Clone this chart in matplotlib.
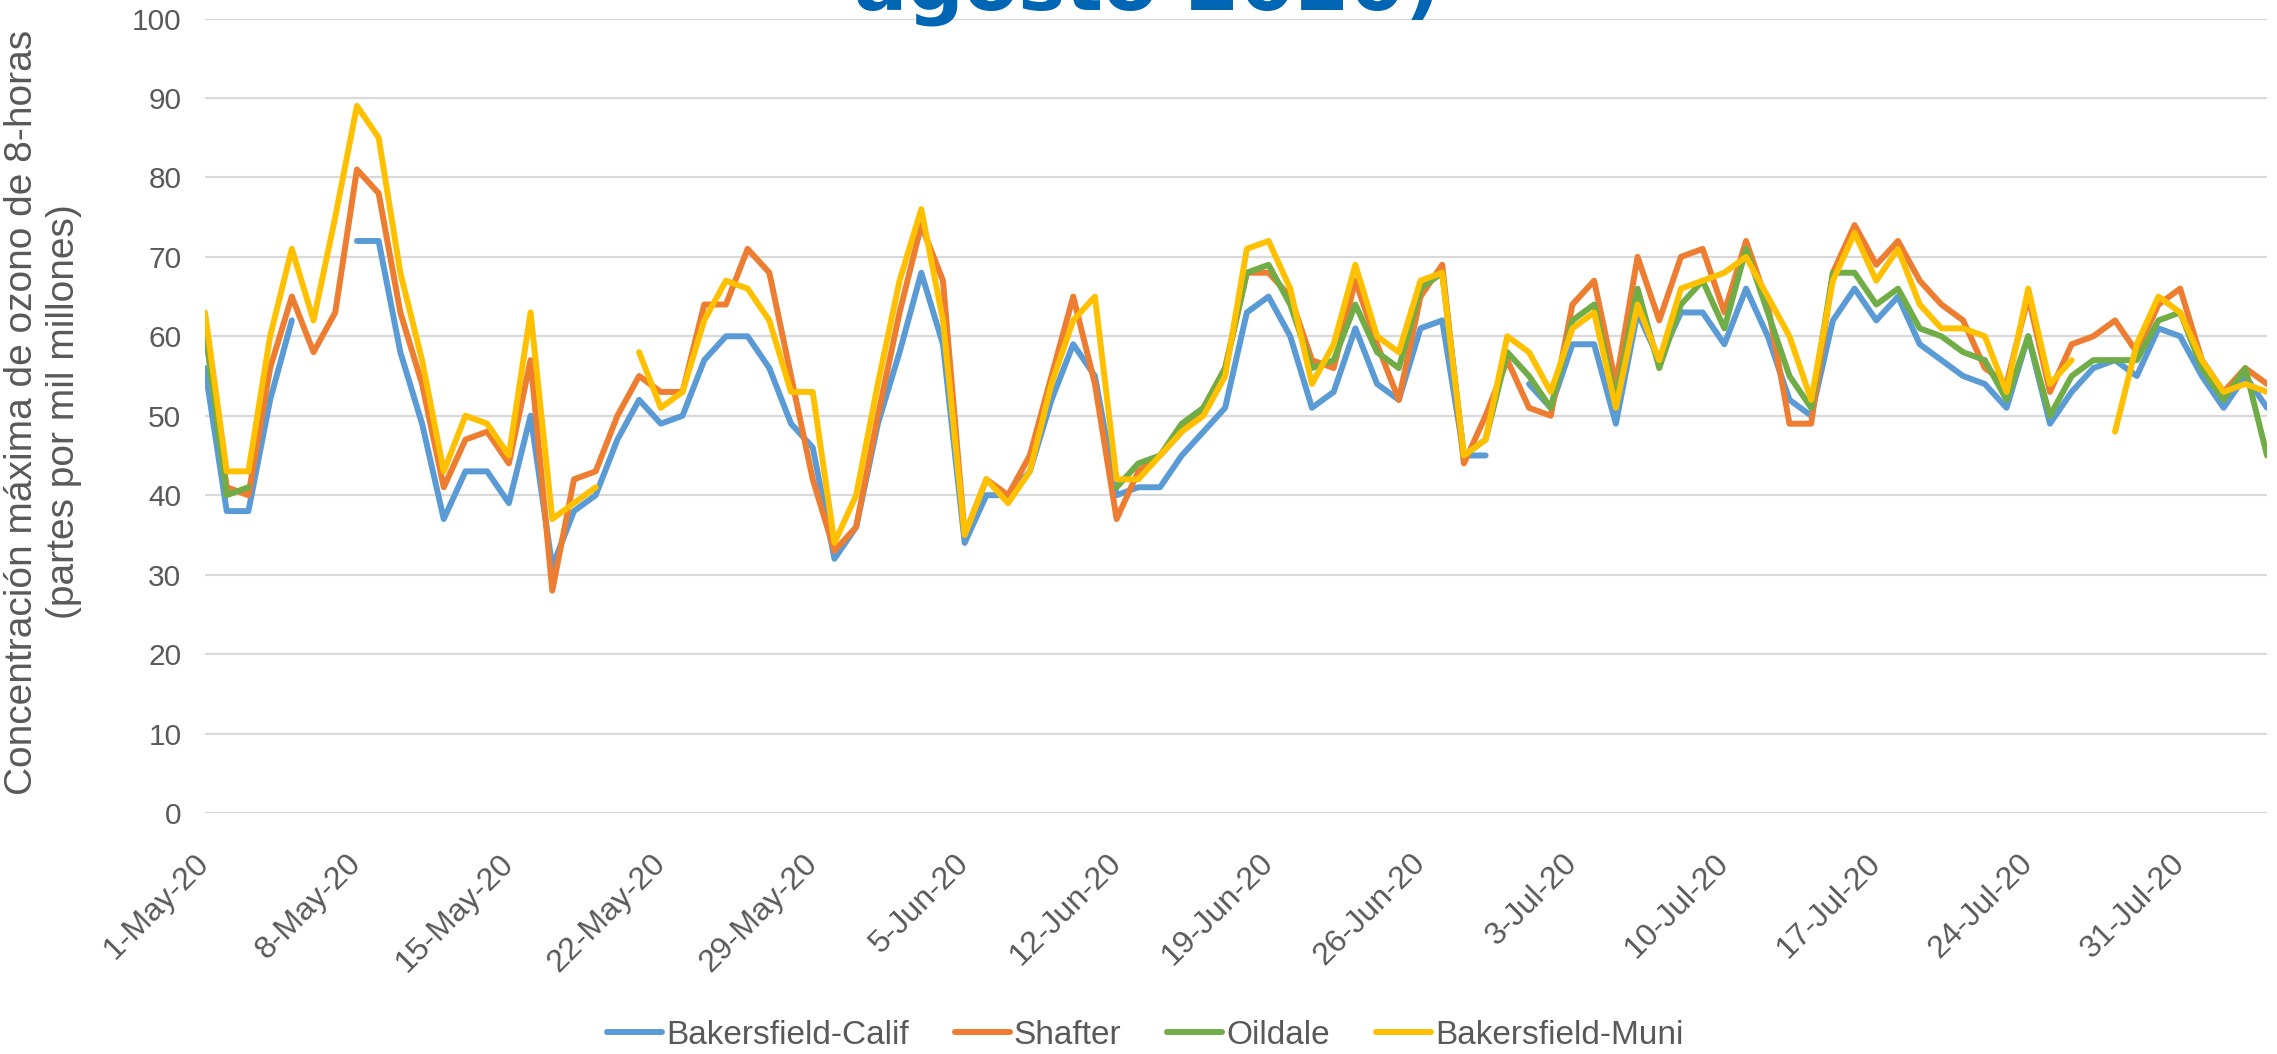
import numpy as np
import matplotlib
matplotlib.use('Agg')
import matplotlib.pyplot as plt

# daily 8-hour max ozone (ppb), 1-May-20 .. 4-Aug-20, None = no data
bakersfield_calif = [56, 38, 38, 52, 62, None, None, 72, 72, 58, 49, 37, 43, 43, 39, 50,
                     31, 38, 40, 47, 52, 49, 50, 57, 60, 60, 56, 49, 46, 32, 36, 49,
                     58, 68, 59, 34, 40, 40, 43, 52, 59, 55, 40, 41, 41, 45, 48, 51,
                     63, 65, 60, 51, 53, 61, 54, 52, 61, 62, 45, 45, None, 54, 51, 59,
                     59, 49, 63, 57, 63, 63, 59, 66, 60, 52, 50, 62, 66, 62, 65, 59,
                     57, 55, 54, 51, 60, 49, 53, 56, 57, 55, 61, 60, 55, 51, 55, 51]
shafter = [61, 41, 40, 56, 65, 58, 63, 81, 78, 63, 54, 41, 47, 48, 44, 57,
           28, 42, 43, 50, 55, 53, 53, 64, 64, 71, 68, 55, 42, 33, 36, 50,
           63, 74, 67, 35, 42, 40, 45, 55, 65, 54, 37, 43, 45, 48, 51, 56,
           68, 68, 65, 57, 56, 67, 59, 52, 65, 69, 44, 50, 57, 51, 50, 64,
           67, 54, 70, 62, 70, 71, 63, 72, 64, 49, 49, 68, 74, 69, 72, 67,
           64, 62, 56, 54, 65, 53, 59, 60, 62, 58, 64, 66, 57, 53, 56, 54]
oildale = [61, 40, 41, None, None, None, None, None, None, None, None, None, None, None, None, None,
           None, None, None, None, None, None, None, None, None, None, None, None, None, None, None, None,
           None, None, None, None, None, None, None, None, None, None, 41, 44, 45, 49, 51, 56,
           68, 69, 64, 56, 57, 64, 58, 56, 66, 68, 45, 47, 58, 55, 51, 62,
           64, 52, 66, 56, 64, 67, 61, 71, 63, 55, 51, 68, 68, 64, 66, 61,
           60, 58, 57, 52, 60, 50, 55, 57, 57, 57, 62, 63, 56, 52, 56, 45]
bakersfield_muni = [63, 43, 43, 60, 71, 62, 75, 89, 85, 68, 57, 43, 50, 49, 45, 63,
                    37, 39, 41, None, 58, 51, 53, 62, 67, 66, 62, 53, 53, 34, 40, 54,
                    67, 76, 62, 35, 42, 39, 43, 54, 62, 65, 42, 42, 45, 48, 50, 55,
                    71, 72, 66, 54, 59, 69, 60, 58, 67, 68, 45, 47, 60, 58, 53, 61,
                    63, 51, 64, 57, 66, 67, 68, 70, 65, 60, 52, 67, 73, 67, 71, 64,
                    61, 61, 60, 53, 66, 54, 57, None, 48, 59, 65, 63, 57, 53, 54, 53]

series_names = ['Bakersfield-Calif', 'Shafter', 'Oildale', 'Bakersfield-Muni']
tick_labels = ['1-May-20', '8-May-20', '15-May-20', '22-May-20', '29-May-20',
               '5-Jun-20', '12-Jun-20', '19-Jun-20', '26-Jun-20', '3-Jul-20',
               '10-Jul-20', '17-Jul-20', '24-Jul-20', '31-Jul-20']
colours = ['#5B9BD5', '#ED7D31', '#70AD47', '#FFC000']

plt.rcParams['font.family'] = ['Liberation Sans', 'DejaVu Sans']

W, H = 2277, 1054
fig = plt.figure(figsize=(W / 100, H / 100), dpi=100)
ax = fig.add_axes([205 / W, 1 - 813 / H, (2267 - 205) / W, (813 - 18.5) / H])

days = np.arange(len(shafter))
for i, vals in enumerate([bakersfield_calif, shafter, oildale, bakersfield_muni]):
    y = np.array(vals, dtype=float)
    ax.plot(days, y, color=colours[i], lw=4.3, label=series_names[i],
            solid_joinstyle='round', solid_capstyle='round')

ax.set_xlim(0, len(days) - 1)
ax.set_ylim(0, 100)
ax.set_yticks(np.arange(0, 101, 10))
ax.set_xticks(days[::7])
ax.set_xticklabels(tick_labels, rotation=45, ha='right', va='center',
                   rotation_mode='anchor')
ax.tick_params(axis='x', length=0, pad=33, labelsize=23, labelcolor='#595959')
ax.tick_params(axis='y', length=0, pad=17, labelsize=21.5, labelcolor='#595959')
ax.grid(axis='y', color='#D9D9D9', lw=1.6)
ax.set_axisbelow(True)
for s in ax.spines.values():
    s.set_visible(False)

fig.text(43 / W, 1 - 412 / H,
         'Concentración máxima de ozono de 8-horas\n(partes por mil millones)',
         rotation=90, ha='center', va='center', multialignment='center',
         fontsize=28, color='#595959', linespacing=1.2)

fig.text(1147 / W, 1 - 10 / H, 'agosto 2020)', ha='center', va='baseline',
         fontsize=57, fontweight='bold', color='#0066B3', family='DejaVu Sans')

fig.legend(loc='center', bbox_to_anchor=(1145 / W, 1 - 1035 / H), ncol=4,
           frameon=False, fontsize=24, handlelength=1.65, handletextpad=0.12,
           columnspacing=1.38, labelcolor='#595959')

fig.savefig('out.png', dpi=100)
